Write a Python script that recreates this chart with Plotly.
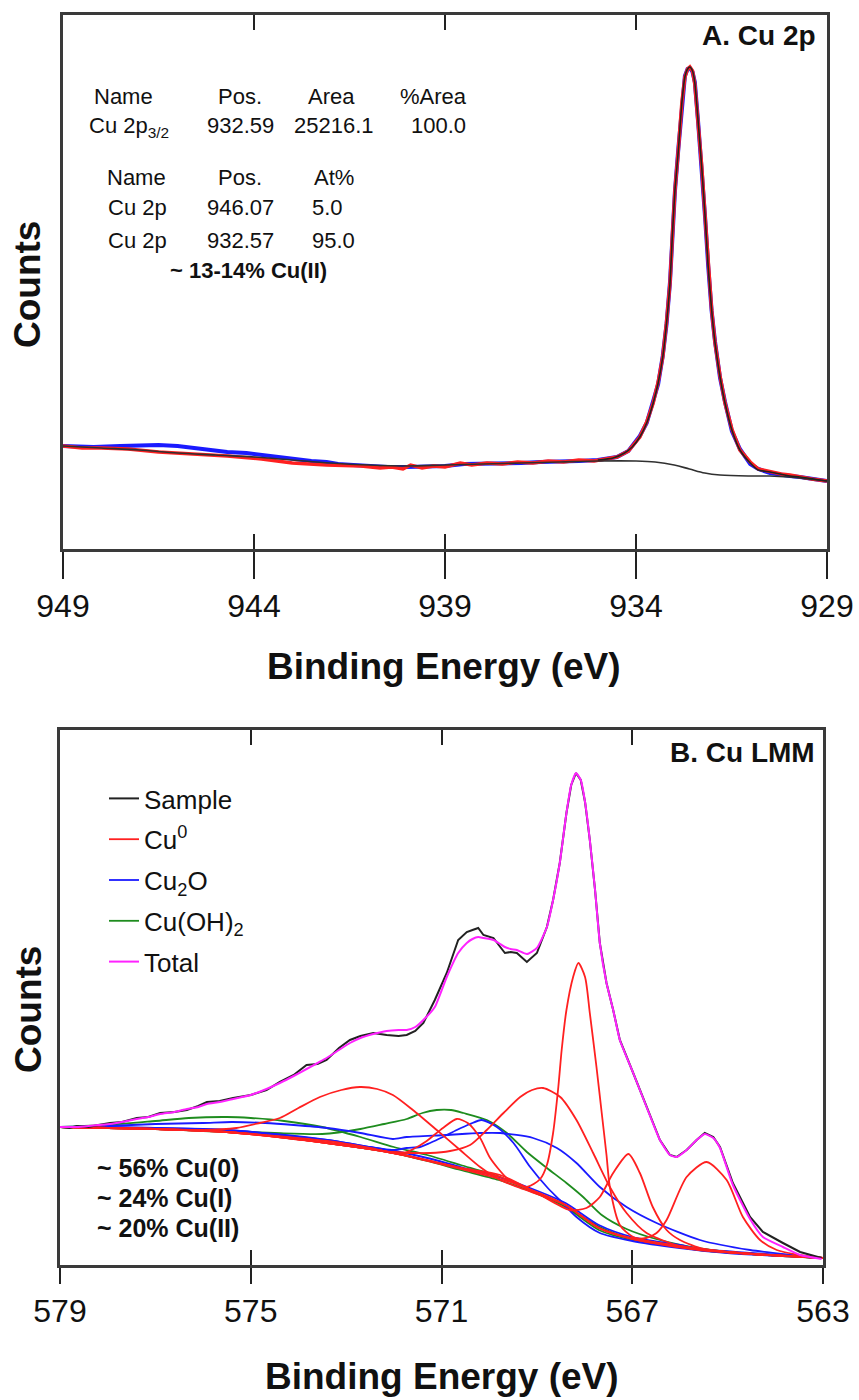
import plotly.graph_objects as go

# ================= Panel A : Cu 2p =================
A_TICKS = [949, 944, 939, 934, 929]

# background (Shirley-type) under Cu 2p
A_BG_E = [949, 948, 947, 946, 945, 944, 943, 942, 941, 940, 939, 938, 937, 936, 935, 934,
          933.5, 933.0, 932.6, 932.2, 931.8, 931.0, 930.5, 930.0, 929.5, 929.0]
A_BG_V = [103, 101, 99, 96, 94, 92, 89, 86, 84, 83, 84, 85, 86, 87, 88, 88,
          87, 84, 80, 76, 74, 73, 73, 72, 70, 68]

# fitted Cu 2p3/2 component (on background)
A_FIT_E = [935.0, 934.6, 934.3, 934.1, 933.90, 933.72, 933.55, 933.42, 933.30, 933.20, 933.11,
           933.05, 932.98, 932.89, 932.80, 932.72, 932.65, 932.59, 932.52, 932.46, 932.37,
           932.28, 932.19, 932.11, 932.02, 931.93, 931.80, 931.67, 931.49, 931.28, 931.01,
           930.80, 930.49, 929.97, 929.71, 929.00]
A_FIT_V = [89, 91, 96, 102, 112, 126, 146, 166, 192, 226, 266,
           312, 359, 399, 446, 472, 480, 482, 478, 466, 426,
           382, 332, 282, 239, 206, 172, 146, 119, 99, 86,
           79, 77, 73, 72, 68]

# measured envelope (red)
A_DATA_E = [949, 948.5, 948, 947.3, 946.5, 945.6, 944.7, 943.8, 943.0, 942.1, 941.2, 940.7,
            940.4, 940.1, 939.9, 939.6, 939.3, 939.0, 938.6, 938.3, 937.9, 937.5, 937.1,
            936.7, 936.3, 935.9, 935.5, 935.1, 934.8, 934.5, 934.2, 933.90, 933.72, 933.55,
            933.42, 933.30, 933.20, 933.11, 933.05, 932.98, 932.89, 932.80, 932.72, 932.65,
            932.59, 932.52, 932.46, 932.37, 932.28, 932.19, 932.11, 932.02, 931.93, 931.80,
            931.67, 931.49, 931.28, 931.01, 930.80, 930.49, 930.2, 929.97, 929.71, 929.4, 929.0]
A_DATA_V = [103, 101, 101, 100, 97, 95, 93, 90, 86, 84, 83, 81,
            82, 80, 84, 81, 83, 82, 86, 84, 86, 85, 87,
            86, 88, 87, 89, 88, 90, 92, 98, 112, 127, 146,
            167, 192, 227, 266, 311, 359, 400, 446, 472, 480,
            482, 478, 465, 426, 383, 332, 282, 239, 206, 173,
            146, 120, 99, 87, 80, 77, 75, 74, 72, 70, 68]

# sample (blue)
A_SAMPLE_E = [949, 948.2, 947.5, 947.0, 946.5, 946.0, 945.6, 945.1, 944.7, 944.2, 943.8, 943.3,
              943.0, 942.5, 942.1, 941.8, 941.4, 941.0, 940.5, 940.0, 939.5, 939.0, 938.5,
              938.0, 937.5, 937.0, 936.5, 936.0, 935.5, 935.0, 934.5, 934.2, 933.90, 933.72,
              933.55, 933.42, 933.30, 933.20, 933.11, 933.05, 932.98, 932.89, 932.80, 932.72,
              932.65, 932.59, 932.52, 932.46, 932.37, 932.28, 932.19, 932.11, 932.02, 931.93,
              931.80, 931.67, 931.49, 931.28, 931.01, 930.80, 930.49, 929.97, 929.71, 929.0]
A_SAMPLE_V = [103, 102, 103, 104, 104, 103, 101, 99, 97, 96, 94, 92,
              90, 88, 87, 85, 84, 83, 82, 82, 82, 83, 85,
              85, 86, 86, 87, 87, 88, 89, 92, 98, 113, 126,
              148, 165, 193, 225, 267, 313, 358, 401, 445, 473,
              480, 481, 477, 467, 425, 383, 331, 283, 238, 207,
              171, 147, 118, 100, 85, 80, 76, 73, 72, 68]

A_TABLE1_HEAD = ["Name", "Pos.", "Area", "%Area"]
A_TABLE1_ROW = ["Cu 2p<sub>3/2</sub>", "932.59", "25216.1", "100.0"]
A_TABLE2_HEAD = ["Name", "Pos.", "At%"]
A_TABLE2_ROWS = [["Cu 2p", "946.07", "5.0"], ["Cu 2p", "932.57", "95.0"]]
A_NOTE = "~ 13-14% Cu(II)"
A_TITLE = "A. Cu 2p"

# ================= Panel B : Cu LMM =================
B_TICKS = [579, 575, 571, 567, 563]

B_SAMPLE_E = [579.00, 578.80, 578.65, 578.40, 578.20, 577.95, 577.70, 577.39, 577.15, 576.90,
              576.60, 576.34, 576.10, 575.92, 575.65, 575.37, 575.00, 574.67, 574.39, 574.10,
              573.83, 573.60, 573.41, 573.15, 572.92, 572.70, 572.43, 572.15, 571.90, 571.73,
              571.55, 571.38, 571.14, 570.89, 570.65, 570.47, 570.35, 570.23, 570.12, 569.91,
              569.80, 569.67, 569.55, 569.42, 569.21, 569.00, 568.79, 568.66, 568.52, 568.38,
              568.28, 568.18, 568.08, 567.99, 567.89, 567.78, 567.68, 567.54, 567.40, 567.26,
              566.98, 566.70, 566.42, 566.21, 566.07, 565.86, 565.65, 565.48, 565.30, 565.16,
              564.89, 564.53, 564.26, 563.84, 563.48, 563.03]
B_SAMPLE_V = [138, 137, 139, 138, 140, 142, 143, 147, 148, 152,
              153, 155, 159, 163, 164, 167, 170, 175, 183, 190,
              200, 201, 205, 217, 225, 229, 232, 230, 229, 230,
              234, 242, 265, 292, 325, 333, 335, 337, 330, 327,
              320, 312, 313, 312, 303, 312, 338, 365, 402, 452,
              480, 492, 485, 463, 425, 375, 322, 282, 255, 225,
              192, 158, 125, 110, 108, 115, 125, 132, 128, 118,
              82, 48, 33, 22, 13, 7]
B_TOTAL_V = [138, 138, 138, 139, 140, 141, 143, 146, 148, 151,
             153, 156, 158, 161, 163, 166, 170, 176, 182, 189,
             196, 202, 207, 215, 222, 227, 231, 234, 235, 235,
             238, 245, 258, 288, 312, 322, 326, 328, 327, 325,
             322, 318, 316, 315, 311, 317, 338, 365, 402, 452,
             480, 492, 485, 463, 425, 375, 322, 282, 255, 225,
             192, 158, 125, 110, 108, 115, 125, 131, 127, 117,
             80, 46, 28, 18, 10, 6]

# Cu(0) components (red)
B_R1_E = [579.0, 577.0, 576.0, 575.3, 574.81, 574.39, 574.0, 573.55, 573.1, 572.71, 572.35, 572.02,
          571.6, 571.1, 570.61, 570.19, 569.77, 569.35, 568.4, 567.7, 567.0, 566.0, 564.5, 563.0]
B_R1_V = [138, 136, 135, 137, 142, 147, 157, 168, 175, 178, 176, 170,
          155, 135, 115, 98, 85, 77, 60, 37, 26, 18, 11, 7]
B_R2_E = [579.0, 577.0, 575.5, 573.4, 572.5, 571.87, 571.59, 571.31, 570.97, 570.68, 570.45,
          570.19, 569.98, 569.63, 569.29, 568.4, 567.7, 567.0, 565.6, 563.0]
B_R2_V = [138, 136, 133, 124, 117, 111, 116, 124, 137, 146, 142,
          127, 107, 87, 78, 60, 37, 26, 15, 7]
B_R3_E = [579.0, 577.0, 575.5, 573.4, 572.0, 571.24, 570.82, 570.40, 570.05, 569.70, 569.35,
          569.10, 568.87, 568.51, 568.17, 567.82, 567.47, 567.12, 566.70, 566.0, 565.0, 563.0]
B_R3_V = [138, 136, 133, 122, 113, 112, 114, 120, 135, 152, 168,
          175, 177, 168, 145, 112, 78, 52, 32, 19, 13, 7]
B_R4_E = [579.0, 577.0, 575.5, 573.4, 572.0, 570.6, 569.77, 569.21, 568.93, 568.79, 568.66,
          568.55, 568.48, 568.38, 568.24, 568.13, 567.99, 567.89, 567.75, 567.64, 567.54,
          567.47, 567.26, 566.98, 566.0, 565.0, 563.0]
B_R4_V = [138, 136, 133, 122, 112, 97, 88, 78, 86, 100, 132,
          178, 215, 255, 288, 302, 288, 252, 198, 152, 110,
          78, 40, 28, 19, 13, 7]
B_R5_E = [579.0, 577.0, 575.5, 573.4, 572.0, 570.6, 569.77, 569.0, 568.31, 567.96, 567.68,
          567.40, 567.08, 566.84, 566.57, 566.28, 566.0, 565.5, 564.5, 563.0]
B_R5_V = [138, 136, 133, 122, 112, 97, 90, 72, 55, 57, 68,
          92, 111, 92, 58, 35, 25, 16, 11, 7]
B_R6_E = [579.0, 577.0, 575.5, 573.4, 572.0, 570.6, 569.5, 568.4, 567.7, 567.0, 566.71,
          566.49, 566.28, 565.86, 565.44, 565.02, 564.68, 564.32, 563.97, 563.5, 563.0]
B_R6_V = [138, 136, 133, 122, 112, 96, 82, 60, 37, 27, 27,
          32, 45, 88, 103, 85, 48, 25, 15, 10, 7]

# Cu2O components (blue)
B_B1_E = [579.0, 577.0, 575.5, 573.4, 572.0, 571.73, 571.45, 571.24, 570.97, 570.68, 570.40,
          570.16, 569.84, 569.49, 569.14, 568.79, 568.52, 568.17, 567.68, 567.0, 566.0, 565.0, 563.0]
B_B1_V = [138, 137, 135, 125, 115, 117, 118, 122, 128, 135, 141,
          145, 138, 122, 98, 78, 65, 48, 32, 24, 17, 12, 7]
B_B2_E = [579.0, 578.0, 577.0, 576.0, 575.4, 574.7, 574.1, 573.4, 572.7, 572.02, 571.73,
          570.9, 570.2, 569.77, 569.08, 568.58, 568.17, 567.68, 567.12, 566.49, 565.58, 564.53, 563.03]
B_B2_V = [138, 139, 141, 142, 143, 142, 140, 137, 132, 126, 128,
          130, 132, 132, 127, 117, 102, 78, 58, 42, 25, 15, 7]
B_B3_E = [579.0, 578.0, 577.0, 576.0, 575.5, 574.5, 573.4, 572.5, 572.0, 571.3, 570.6,
          569.8, 569.2, 568.4, 567.7, 567.0, 566.0, 565.6, 564.5, 563.0]
B_B3_V = [138, 138, 137, 136, 135, 131, 125, 118, 114, 107, 98,
          88, 78, 62, 40, 28, 20, 16, 12, 7]

# Cu(OH)2 components (green)
B_G1_E = [579.0, 577.0, 576.0, 574.5, 573.5, 572.7, 572.2, 571.73, 571.4, 571.1, 570.8, 570.54,
          570.05, 569.63, 569.21, 568.79, 568.38, 568.03, 567.64, 567.12, 566.5, 565.5, 564.5, 563.03]
B_G1_V = [138, 136, 135, 132, 131, 136, 141, 146, 152, 155, 155, 152,
          145, 132, 113, 97, 82, 68, 50, 36, 26, 16, 11, 7]
B_G2_E = [579.0, 578.0, 577.0, 576.3, 575.5, 575.0, 574.3, 573.5, 572.7, 572.0, 571.3, 570.6,
          569.77, 569.08, 568.38, 567.68, 566.98, 565.58, 563.03]
B_G2_V = [138, 140, 144, 147, 148, 147, 144, 138, 128, 118, 110, 100,
          88, 74, 58, 38, 26, 15, 7]
B_G3_E = [579.0, 578.0, 577.0, 576.0, 575.5, 574.5, 573.4, 572.5, 572.0, 571.3, 570.6,
          569.8, 569.2, 568.4, 567.7, 567.0, 566.0, 565.6, 564.5, 563.0]
B_G3_V = [138, 137, 136, 134, 133, 129, 122, 116, 112, 104, 95,
          85, 75, 58, 35, 25, 18, 15, 11, 7]

B_NOTES = ["~ 56% Cu(0)", "~ 24% Cu(I)", "~ 20% Cu(II)"]
B_TITLE = "B. Cu LMM"

# ================= Figure =================
W, H = 859, 1400
def px(x):
    return x / W
def py(y):
    return 1 - y / H

RED, BLUE, GREEN, MAGENTA, BLACK = "#ff2020", "#1a1aff", "#1e8c1e", "#ff22ff", "#222222"
FONT = "Liberation Sans, Arial, sans-serif"
TICKFONT = "Liberation Sans Narrow, Arial Narrow, Liberation Sans, Arial, sans-serif"

fig = go.Figure()

# ---- panel A traces
fig.add_trace(go.Scatter(x=A_SAMPLE_E, y=A_SAMPLE_V, mode="lines", line=dict(color=BLUE, width=4),
                         showlegend=False, xaxis="x", yaxis="y"))
fig.add_trace(go.Scatter(x=A_DATA_E, y=A_DATA_V, mode="lines", line=dict(color=RED, width=3.5),
                         showlegend=False, xaxis="x", yaxis="y"))
fig.add_trace(go.Scatter(x=A_BG_E, y=A_BG_V, mode="lines", line=dict(color="#303030", width=1.6, shape="spline"),
                         showlegend=False, xaxis="x", yaxis="y"))
fig.add_trace(go.Scatter(x=A_FIT_E, y=A_FIT_V, mode="lines", line=dict(color=BLACK, width=1.6, shape="spline", smoothing=0.6),
                         showlegend=False, xaxis="x", yaxis="y"))
fig.add_trace(go.Scatter(x=[], y=[], showlegend=False, xaxis="x3", yaxis="y"))

# ---- panel B traces
def comp(E, V, color, name, first):
    fig.add_trace(go.Scatter(x=E, y=V, mode="lines", name=name, legendgroup=name,
                             showlegend=first, line=dict(color=color, width=1.8, shape="spline", smoothing=0.7),
                             xaxis="x2", yaxis="y2"))

comp(B_G3_E, B_G3_V, GREEN, "Cu(OH)<sub>2</sub>", True)
comp(B_G2_E, B_G2_V, GREEN, "Cu(OH)<sub>2</sub>", False)
comp(B_G1_E, B_G1_V, GREEN, "Cu(OH)<sub>2</sub>", False)
comp(B_B3_E, B_B3_V, BLUE, "Cu<sub>2</sub>O", True)
comp(B_B2_E, B_B2_V, BLUE, "Cu<sub>2</sub>O", False)
comp(B_B1_E, B_B1_V, BLUE, "Cu<sub>2</sub>O", False)
for i, (E, V) in enumerate([(B_R1_E, B_R1_V), (B_R2_E, B_R2_V), (B_R3_E, B_R3_V),
                            (B_R4_E, B_R4_V), (B_R5_E, B_R5_V), (B_R6_E, B_R6_V)]):
    comp(E, V, RED, "Cu<sup>0</sup>", i == 0)

fig.add_trace(go.Scatter(x=B_SAMPLE_E, y=B_SAMPLE_V, mode="lines", name="Sample", legendgroup="Sample",
                         line=dict(color=BLACK, width=2), xaxis="x2", yaxis="y2"))
fig.add_trace(go.Scatter(x=B_SAMPLE_E, y=B_TOTAL_V, mode="lines", name="Total", legendgroup="Total",
                         line=dict(color=MAGENTA, width=2, shape="spline", smoothing=0.5), xaxis="x2", yaxis="y2"))
fig.add_trace(go.Scatter(x=[], y=[], showlegend=False, xaxis="x4", yaxis="y2"))

ranks = {"Sample": 1, "Cu<sup>0</sup>": 2, "Cu<sub>2</sub>O": 3, "Cu(OH)<sub>2</sub>": 4, "Total": 5}
for tr in fig.data:
    if tr.name in ranks:
        tr.legendrank = ranks[tr.name]

LINE = dict(showline=True, linecolor="#3a3a3a", linewidth=2.5, showgrid=False, zeroline=False, automargin=False)
TICKF = dict(family=TICKFONT, size=32, color="#111111")

def xmain(dom, rng, ticks, anchor, tlen):
    return dict(domain=dom, range=rng, anchor=anchor, tickmode="array", tickvals=ticks,
                ticktext=[str(t) for t in ticks], ticks="outside", ticklen=tlen, tickwidth=2,
                tickcolor="#222222", mirror=True, tickfont=TICKF, **LINE)

def xover(dom, rng, ticks, anchor, over):
    return dict(domain=dom, range=rng, anchor=anchor, overlaying=over, tickmode="array", tickvals=ticks,
                ticks="inside", ticklen=15, tickwidth=2, tickcolor="#222222", mirror="ticks",
                showticklabels=False, **LINE)

def yax(dom, rng, anchor):
    return dict(domain=dom, range=rng, anchor=anchor, showticklabels=False, ticks="", mirror=True, **LINE)

fig.update_layout(
    width=W, height=H, autosize=False,
    margin=dict(l=0, r=0, t=0, b=0, pad=0),
    paper_bgcolor="white", plot_bgcolor="white",
    xaxis=xmain([px(63), px(827)], [949, 929], A_TICKS, "y", 27),
    xaxis3=xover([px(63), px(827)], [949, 929], A_TICKS, "y", "x"),
    yaxis=yax([py(549), py(15)], [0, 534], "x"),
    xaxis2=xmain([px(60), px(823)], [579, 563], B_TICKS, "y2", 16),
    xaxis4=xover([px(60), px(823)], [579, 563], B_TICKS, "y2", "x2"),
    yaxis2=yax([py(1265), py(730)], [0, 535], "x2"),
    legend=dict(x=px(104), y=py(775), xanchor="left", yanchor="top", bgcolor="rgba(0,0,0,0)",
                font=dict(family=FONT, size=26, color="#111111"), itemwidth=30,
                traceorder="grouped", tracegroupgap=4),
    showlegend=True,
)

ann = []
def text(x, y, t, size=22, bold=False, xanchor="center", angle=0):
    ann.append(dict(x=px(x), y=py(y), xref="paper", yref="paper", text=("<b>%s</b>" % t) if bold else t,
                    showarrow=False, xanchor=xanchor, yanchor="middle", textangle=angle,
                    font=dict(family=FONT, size=size, color="#111111")))

# axis titles
text(28, 285, "Counts", 37, True, angle=-90)
text(28, 1010, "Counts", 37, True, angle=-90)
text(444, 666, "Binding Energy (eV)", 37, True)
text(442, 1376, "Binding Energy (eV)", 37, True)

# panel labels
text(818, 36, A_TITLE, 28, True, xanchor="right")
text(817, 752, B_TITLE, 28, True, xanchor="right")

# table in panel A
for t, x in zip(A_TABLE1_HEAD, [123, 240, 331, 433]):
    text(x, 96, t)
text(87, 127, A_TABLE1_ROW[0], xanchor="left")
for t, x in zip(A_TABLE1_ROW[1:], [240, 334, 438]):
    text(x, 125, t)
for t, x in zip(A_TABLE2_HEAD, [136, 240, 334]):
    text(x, 177, t)
for row, y in zip(A_TABLE2_ROWS, [207, 240]):
    text(137, y, row[0])
    text(240, y, row[1])
    text(310, y, row[2], xanchor="left")
text(248, 271, A_NOTE, 22, True)

for t, y in zip(B_NOTES, [1168, 1198, 1228]):
    text(95, y, t, 25, True, xanchor="left")

fig.update_layout(annotations=ann)
fig.write_html("out.html")
